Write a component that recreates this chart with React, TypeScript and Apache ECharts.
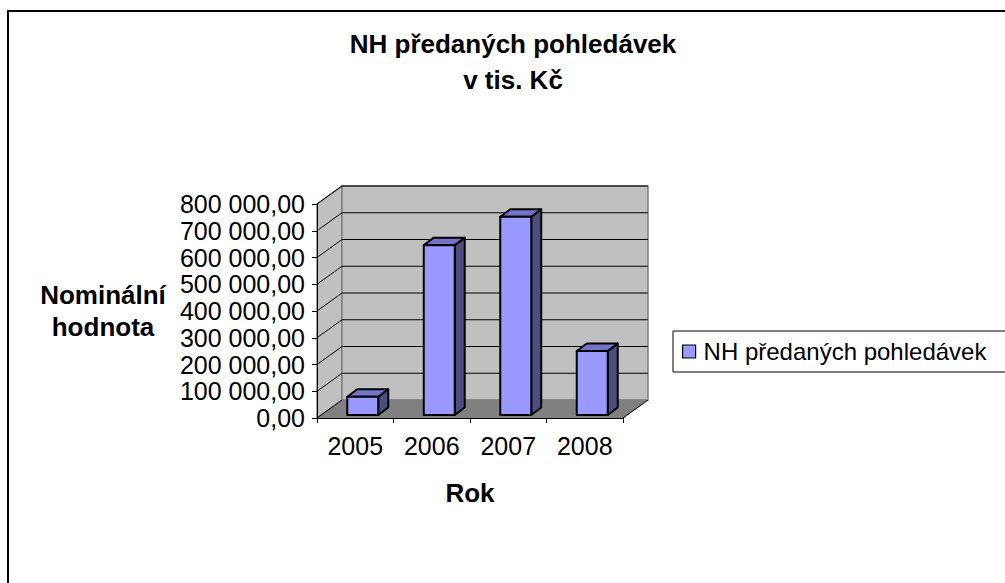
import React, { useEffect, useRef } from "react";
import * as echarts from "echarts";

const years = ["2005", "2006", "2007", "2008"];
const values = [68000, 635000, 741000, 239000];
const yTicks = [0, 100000, 200000, 300000, 400000, 500000, 600000, 700000, 800000];
const seriesName = "NH předaných pohledávek";
const chartTitle = "NH předaných pohledávek\nv tis. Kč";
const xName = "Rok";
const yName = "Nominální\nhodnota";

const FONT = "'Liberation Sans', Arial, Helvetica, sans-serif";
const DX = 25; // wall depth x
const DY = 18; // wall depth y

function fmt(v: number): string {
  const s = Math.round(v)
    .toString()
    .replace(/\B(?=(\d{3})+(?!\d))/g, " ");
  return s + ",00";
}

export default function App() {
  const ref = useRef<HTMLDivElement>(null);
  useEffect(() => {
    if (!ref.current) return;
    const chart = echarts.init(ref.current, undefined, { renderer: "svg" });
    const wallsRender = (params: any, api: any) => {
      const cs = params.coordSys;
      const x0 = cs.x;
      const x1 = cs.x + cs.width;
      const yTop = api.coord([0, yTicks[yTicks.length - 1]])[1];
      const yBot = api.coord([0, 0])[1];
      const children: any[] = [];
      children.push({
        type: "polygon",
        shape: { points: [[x0, yTop], [x0 + DX, yTop - DY], [x0 + DX, yBot - DY], [x0, yBot]] },
        style: { fill: "#C0C0C0", stroke: "#808080", lineWidth: 1.5 },
      });
      children.push({
        type: "rect",
        shape: { x: x0 + DX, y: yTop - DY, width: x1 - x0, height: yBot - yTop },
        style: { fill: "#C0C0C0", stroke: "#808080", lineWidth: 1.5 },
      });
      children.push({
        type: "polygon",
        shape: { points: [[x0, yBot], [x1, yBot], [x1 + DX, yBot - DY], [x0 + DX, yBot - DY]] },
        style: { fill: "#808080", stroke: "#808080", lineWidth: 1 },
      });
      yTicks.forEach((t) => {
        const y = api.coord([0, t])[1];
        if (t !== 0) {
          children.push({
            type: "line",
            shape: { x1: x0 + DX, y1: y - DY, x2: x1 + DX, y2: y - DY },
            style: { stroke: "#000", lineWidth: 1 },
          });
        }
        children.push({
          type: "line",
          shape: { x1: x0, y1: y, x2: x0 + DX, y2: y - DY },
          style: { stroke: "#000", lineWidth: 1 },
        });
      });
      children.push({
        type: "line",
        shape: { x1: x1, y1: yBot, x2: x1 + DX, y2: yBot - DY },
        style: { stroke: "#000", lineWidth: 1 },
      });
      return { type: "group", children };
    };

    const barRender = (params: any, api: any) => {
      const i = api.value(0);
      const v = api.value(1);
      const base = api.coord([i, 0]);
      const top = api.coord([i, v]);
      const band = api.size([1, 0])[0];
      const bw = band * 0.405;
      const ox = DX * 0.3;
      const oy = -3;
      const dx = 10;
      const dy = 7.5;
      const L = base[0] - bw / 2 + ox;
      const R = L + bw;
      const B = base[1] + oy;
      const T = top[1] + oy;
      const st = { stroke: "#000", lineWidth: 2, lineJoin: "round" };
      return {
        type: "group",
        children: [
          {
            type: "polygon",
            shape: { points: [[R, T], [R + dx, T - dy], [R + dx, B - dy], [R, B]] },
            style: { fill: "#4D4D80", ...st },
          },
          {
            type: "polygon",
            shape: { points: [[L, T], [R, T], [R + dx, T - dy], [L + dx, T - dy]] },
            style: { fill: "#7373C8", ...st },
          },
          {
            type: "rect",
            shape: { x: L, y: T, width: bw, height: B - T },
            style: { fill: "#9999FF", ...st },
          },
        ],
      };
    };

    chart.setOption({
      animation: false,
      backgroundColor: "#fff",
      textStyle: { fontFamily: FONT },
      title: {
        text: chartTitle,
        left: 513,
        top: 26,
        padding: 0,
        textAlign: "center",
        textStyle: { fontSize: 26, fontWeight: "bold", color: "#000", lineHeight: 36, fontFamily: FONT },
      },
      legend: {
        left: 673,
        top: 331,
        orient: "horizontal",
        selectedMode: false,
        padding: [8, 40, 8, 9],
        borderColor: "#000",
        borderWidth: 1,
        itemWidth: 13,
        itemHeight: 13,
        data: [
          {
            name: seriesName,
            icon: "rect",
            itemStyle: { color: "#9999FF", borderColor: "#000", borderWidth: 1.2 },
          },
        ],
        textStyle: { fontSize: 24, color: "#000", fontFamily: FONT, lineHeight: 25, padding: [0, 0, 0, 3] },
      },
      graphic: [
        {
          type: "rect",
          silent: true,
          z: 100,
          shape: { x: 8, y: 11, width: 1200, height: 800 },
          style: { fill: "none", stroke: "#000", lineWidth: 2 },
        },
      ],
      grid: { left: 317, right: 382, top: 204, bottom: 165 },
      xAxis: {
        type: "category",
        data: years,
        z: 5,
        boundaryGap: true,
        name: xName,
        nameLocation: "middle",
        nameGap: 75,
        nameTextStyle: { fontSize: 26, fontWeight: "bold", color: "#000", verticalAlign: "middle", fontFamily: FONT },
        axisLine: { show: true, lineStyle: { color: "#000", width: 1 } },
        axisTick: { show: true, length: 5, alignWithLabel: false, lineStyle: { color: "#000" } },
        axisLabel: { fontSize: 25, color: "#000", margin: 15, fontFamily: FONT },
        splitLine: { show: false },
      },
      yAxis: {
        type: "value",
        min: 0,
        max: 800000,
        interval: 100000,
        z: 5,
        name: yName,
        nameLocation: "middle",
        nameRotate: 0,
        nameGap: 214,
        nameTextStyle: {
          fontSize: 26,
          fontWeight: "bold",
          color: "#000",
          align: "center",
          verticalAlign: "middle",
          lineHeight: 32,
          fontFamily: FONT,
        },
        axisLine: { show: true, lineStyle: { color: "#000", width: 1 } },
        axisTick: { show: true, length: 5, lineStyle: { color: "#000" } },
        axisLabel: { fontSize: 25, color: "#000", margin: 12, formatter: fmt, fontFamily: FONT },
        splitLine: { show: false },
      },
      series: [
        {
          type: "custom",
          silent: true,
          z: 0,
          clip: false,
          renderItem: wallsRender,
          data: [[0, 0]],
          encode: { x: 0, y: 1 },
        },
        {
          type: "custom",
          name: seriesName,
          z: 2,
          clip: false,
          itemStyle: { color: "#9999FF" },
          renderItem: barRender,
          data: values.map((v, i) => [i, v]),
          encode: { x: 0, y: 1 },
        },
      ],
    });
    return () => chart.dispose();
  }, []);
  return (
    <div
      ref={ref}
      style={{ position: "fixed", left: 0, top: 0, width: 1005, height: 583, background: "#fff" }}
    />
  );
}
